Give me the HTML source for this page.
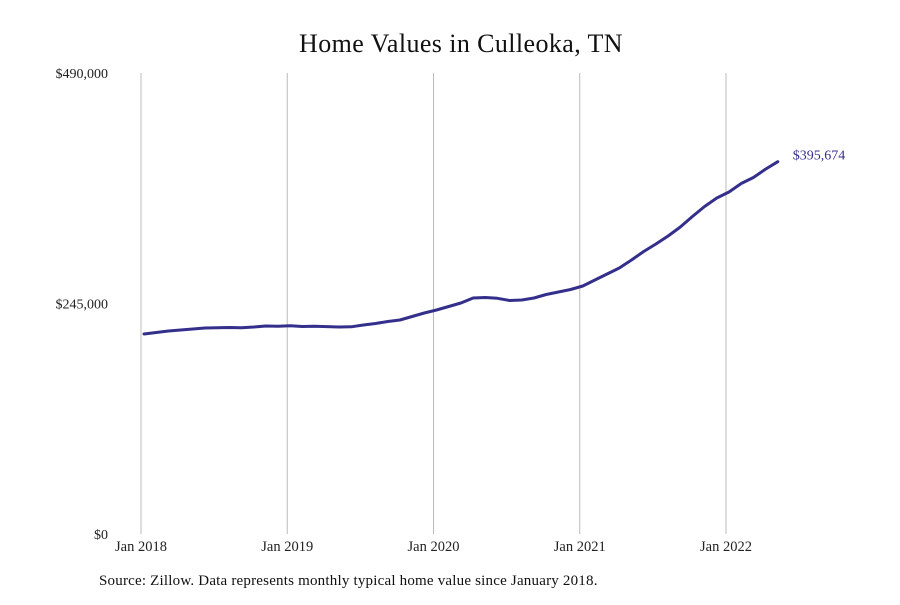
<!DOCTYPE html>
<html><head><meta charset="utf-8"><style>
body{margin:0;background:#fff;}
svg text{font-family:"Liberation Serif",serif;}
</style></head><body>
<svg id="chart" width="900" height="600" viewBox="0 0 900 600" xmlns="http://www.w3.org/2000/svg">
<rect width="900" height="600" fill="#fff"/>
<text x="461" y="52" text-anchor="middle" font-size="26" letter-spacing="0.4" fill="#111">Home Values in Culleoka, TN</text>
<g id="grid"></g><g id="yaxis"></g><g id="xaxis"></g>
<path id="line" fill="none" stroke="#352f8c" stroke-width="3" stroke-linejoin="round" stroke-linecap="round"/>
<text id="endlabel" font-size="14" fill="#352f8c"></text>
<text x="99" y="585" font-size="15" letter-spacing="0.2" fill="#111">Source: Zillow. Data represents monthly typical home value since January 2018.</text>
</svg>
<script>
const values=[212.6,214.2,215.8,216.8,217.9,219,219.3,219.5,219.3,220,221.1,220.9,221.4,220.5,220.9,220.4,220,220.2,222.1,223.7,225.9,227.5,231.2,234.9,238.1,241.8,245.5,250.8,251.4,250.5,248.2,248.7,250.8,254.6,257.2,259.9,263.6,270,276.4,282.7,291.2,300.3,308.2,316.7,326.3,337.5,348.1,357.1,363.5,372.5,378.9,387.9,395.674];
const yTicks=[0,245000,490000];
const yTickLabels=["$0","$245,000","$490,000"];
const xTickMonths=[0,12,24,36,48];
const xTickLabels=["Jan 2018","Jan 2019","Jan 2020","Jan 2021","Jan 2022"];
const endLabel="$395,674";
const NS="http://www.w3.org/2000/svg";
const x=m=>141+m*(585/48);
const y=v=>534-v/490000*461;
const grid=document.getElementById('grid'),ya=document.getElementById('yaxis'),xa=document.getElementById('xaxis');
xTickMonths.forEach((m,i)=>{
 const l=document.createElementNS(NS,'line');
 
 
 l.setAttribute('x1',x(m));l.setAttribute('x2',x(m));l.setAttribute('y1',73);l.setAttribute('y2',534);
 l.setAttribute('stroke','#bbb');l.setAttribute('stroke-width','1');grid.appendChild(l);
 const t=document.createElementNS(NS,'text');
 
 
 t.setAttribute('x',x(m));t.setAttribute('y',551);t.setAttribute('text-anchor','middle');t.setAttribute('font-size','14.5');t.setAttribute('fill','#222');
 t.textContent=xTickLabels[i];xa.appendChild(t);
});
yTicks.forEach((v,i)=>{
 const t=document.createElementNS(NS,'text');
 
 
 t.setAttribute('x',108);t.setAttribute('y',y(v)+5);t.setAttribute('text-anchor','end');t.setAttribute('font-size','14');t.setAttribute('fill','#222');
 t.textContent=yTickLabels[i];ya.appendChild(t);
});
const pts=values.map((v,i)=>[x(i)+3,y(v*1000)]);
document.getElementById('line').setAttribute('d',pts.map((p,i)=>(i?'L':'M')+p[0].toFixed(1)+','+p[1].toFixed(1)).join(''));
const last=pts[pts.length-1];
const el=document.getElementById('endlabel');
el.setAttribute('x',last[0]+15);el.setAttribute('y',last[1]-2);el.textContent=endLabel;
</script>
</body></html>
